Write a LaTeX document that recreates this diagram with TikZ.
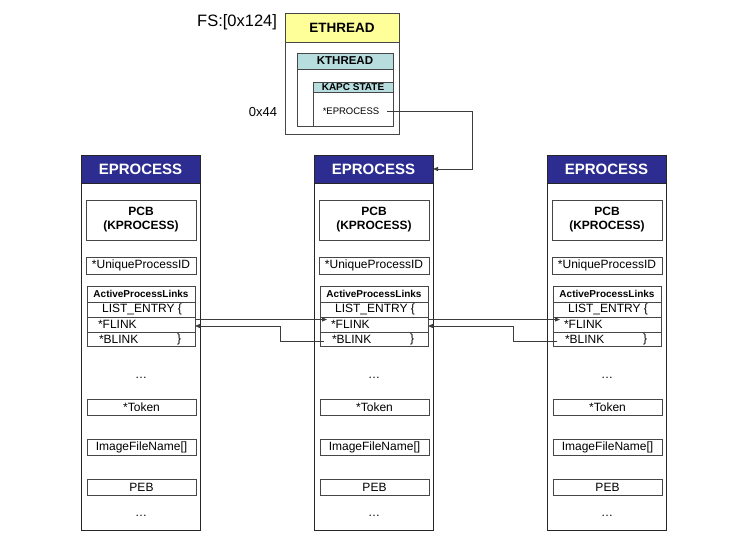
\documentclass[tikz,border=0pt]{standalone}
\usepackage{fontspec}
\setmainfont{Liberation Sans}
\usetikzlibrary{arrows.meta}
\definecolor{navy}{RGB}{45,45,145}
\definecolor{ylw}{RGB}{255,255,153}
\definecolor{tealhd}{RGB}{183,221,222}
\definecolor{bord}{RGB}{70,70,70}
\definecolor{linec}{RGB}{60,60,60}
\tikzset{
  bx/.style={draw=bord, line width=0.8pt, anchor=north west, inner sep=0pt, outer sep=0pt},
  outerbox/.style={bx, draw=black!85, minimum width=119pt, minimum height=375pt},
  hdr/.style={bx, draw=black!85, fill=navy, text=white, minimum width=119pt, minimum height=28pt,
    font=\bfseries\fontsize{15}{17}\selectfont},
  fld/.style={bx, font=\fontsize{12}{14}\selectfont},
  txt/.style={inner sep=0pt, outer sep=0pt, font=\fontsize{12}{14}\selectfont},
  conn/.style={draw=linec, line width=0.8pt},
  tip/.style={-{Triangle[length=5pt,width=4pt]}}
}
\begin{document}
\begin{tikzpicture}[x=1pt,y=-1pt]
\useasboundingbox (0,0) rectangle (737,551);

% ETHREAD structure
\node[bx, minimum width=114pt, minimum height=121pt] (eth) at (285,13) {};
\node[bx, fill=ylw, minimum width=114pt, minimum height=29pt,
  font=\bfseries\fontsize{13.5}{15}\selectfont] (ethh) at (285,13) {ETHREAD};
\node[bx, minimum width=96pt, minimum height=73pt] (kth) at (297,53) {};
\node[bx, fill=tealhd, minimum width=96pt, minimum height=16pt,
  font=\bfseries\fontsize{11.5}{13}\selectfont] (kthh) at (297,53) {KTHREAD};
\node[bx, minimum width=80pt, minimum height=44pt] (kapc) at (313,82) {};
\node[bx, fill=tealhd, minimum width=80pt, minimum height=10.5pt,
  font=\bfseries\fontsize{10}{10}\selectfont] (kapch) at (313,82) {KAPC STATE};
\node[txt, font=\fontsize{9.5}{11}\selectfont] (epx) at (351,111) {*EPROCESS};
\node[txt, anchor=east, font=\fontsize{16.5}{18}\selectfont] (fs) at (277,22) {FS:[0x124]};
\node[txt, anchor=east, font=\fontsize{13}{15}\selectfont] (off) at (277,112) {0x44};

% EPROCESS columns
\foreach \i/\X in {0/81,1/314,2/547} {
  \node[outerbox] (ep\i) at (\X,155) {};
  \node[hdr] (eph\i) at (\X,155) {EPROCESS};
  \node[bx, minimum width=110pt, minimum height=40pt, align=center,
    font=\bfseries\fontsize{12}{14}\selectfont] (pcb\i) at (\X+5,200) {PCB\\(KPROCESS)};
  \node[fld, minimum width=110pt, minimum height=17pt] (uid\i) at (\X+5,257) {*UniqueProcessID};
  \node[bx, minimum width=108pt, minimum height=16pt,
    font=\bfseries\fontsize{10}{12}\selectfont] (apl\i) at (\X+6,286) {ActiveProcessLinks};
  \node[fld, minimum width=108pt, minimum height=15pt] (le\i) at (\X+6,302) {};
  \node[fld, minimum width=108pt, minimum height=15pt] (fl\i) at (\X+6,317) {};
  \node[fld, minimum width=108pt, minimum height=14pt] (bl\i) at (\X+6,332) {};
  \node[txt] (let\i) at ([xshift=1pt]le\i.center) {LIST\_ENTRY \{};
  \node[txt, anchor=west] (flt\i) at ([xshift=11pt]fl\i.west) {*FLINK};
  \node[txt, anchor=west] (blt\i) at ([xshift=12pt]bl\i.west) {*BLINK};
  \node[txt, anchor=west] (blb\i) at ([xshift=90pt]bl\i.west) {\}};
  \node[txt] (d1\i) at (\X+60,378) {\ldots};
  \node[fld, minimum width=109pt, minimum height=16pt] (tok\i) at (\X+6,399) {*Token};
  \node[fld, minimum width=109pt, minimum height=16pt] (img\i) at (\X+6,439) {ImageFileName[]};
  \node[fld, minimum width=109pt, minimum height=16pt] (peb\i) at (\X+6,479) {PEB};
  \node[txt] (d2\i) at (\X+60,516) {\ldots};
}

% list links
\foreach \i/\j in {0/1,1/2} {
  \draw[conn, tip] ([yshift=5pt]fl\i.east) -- ([xshift=7pt,yshift=5pt]fl\j.west);
  \draw[conn, tip] ([xshift=4pt,yshift=-2pt]bl\j.west) -| ([xshift=85pt,yshift=-1.5pt]fl\i.east)
    -- ([yshift=-1.5pt]fl\i.east);
}

% ETHREAD -> EPROCESS
\draw[conn, tip] ([xshift=8pt]epx.east) -| ([xshift=39pt]eph1.east) -- (eph1.east);
\end{tikzpicture}
\end{document}
